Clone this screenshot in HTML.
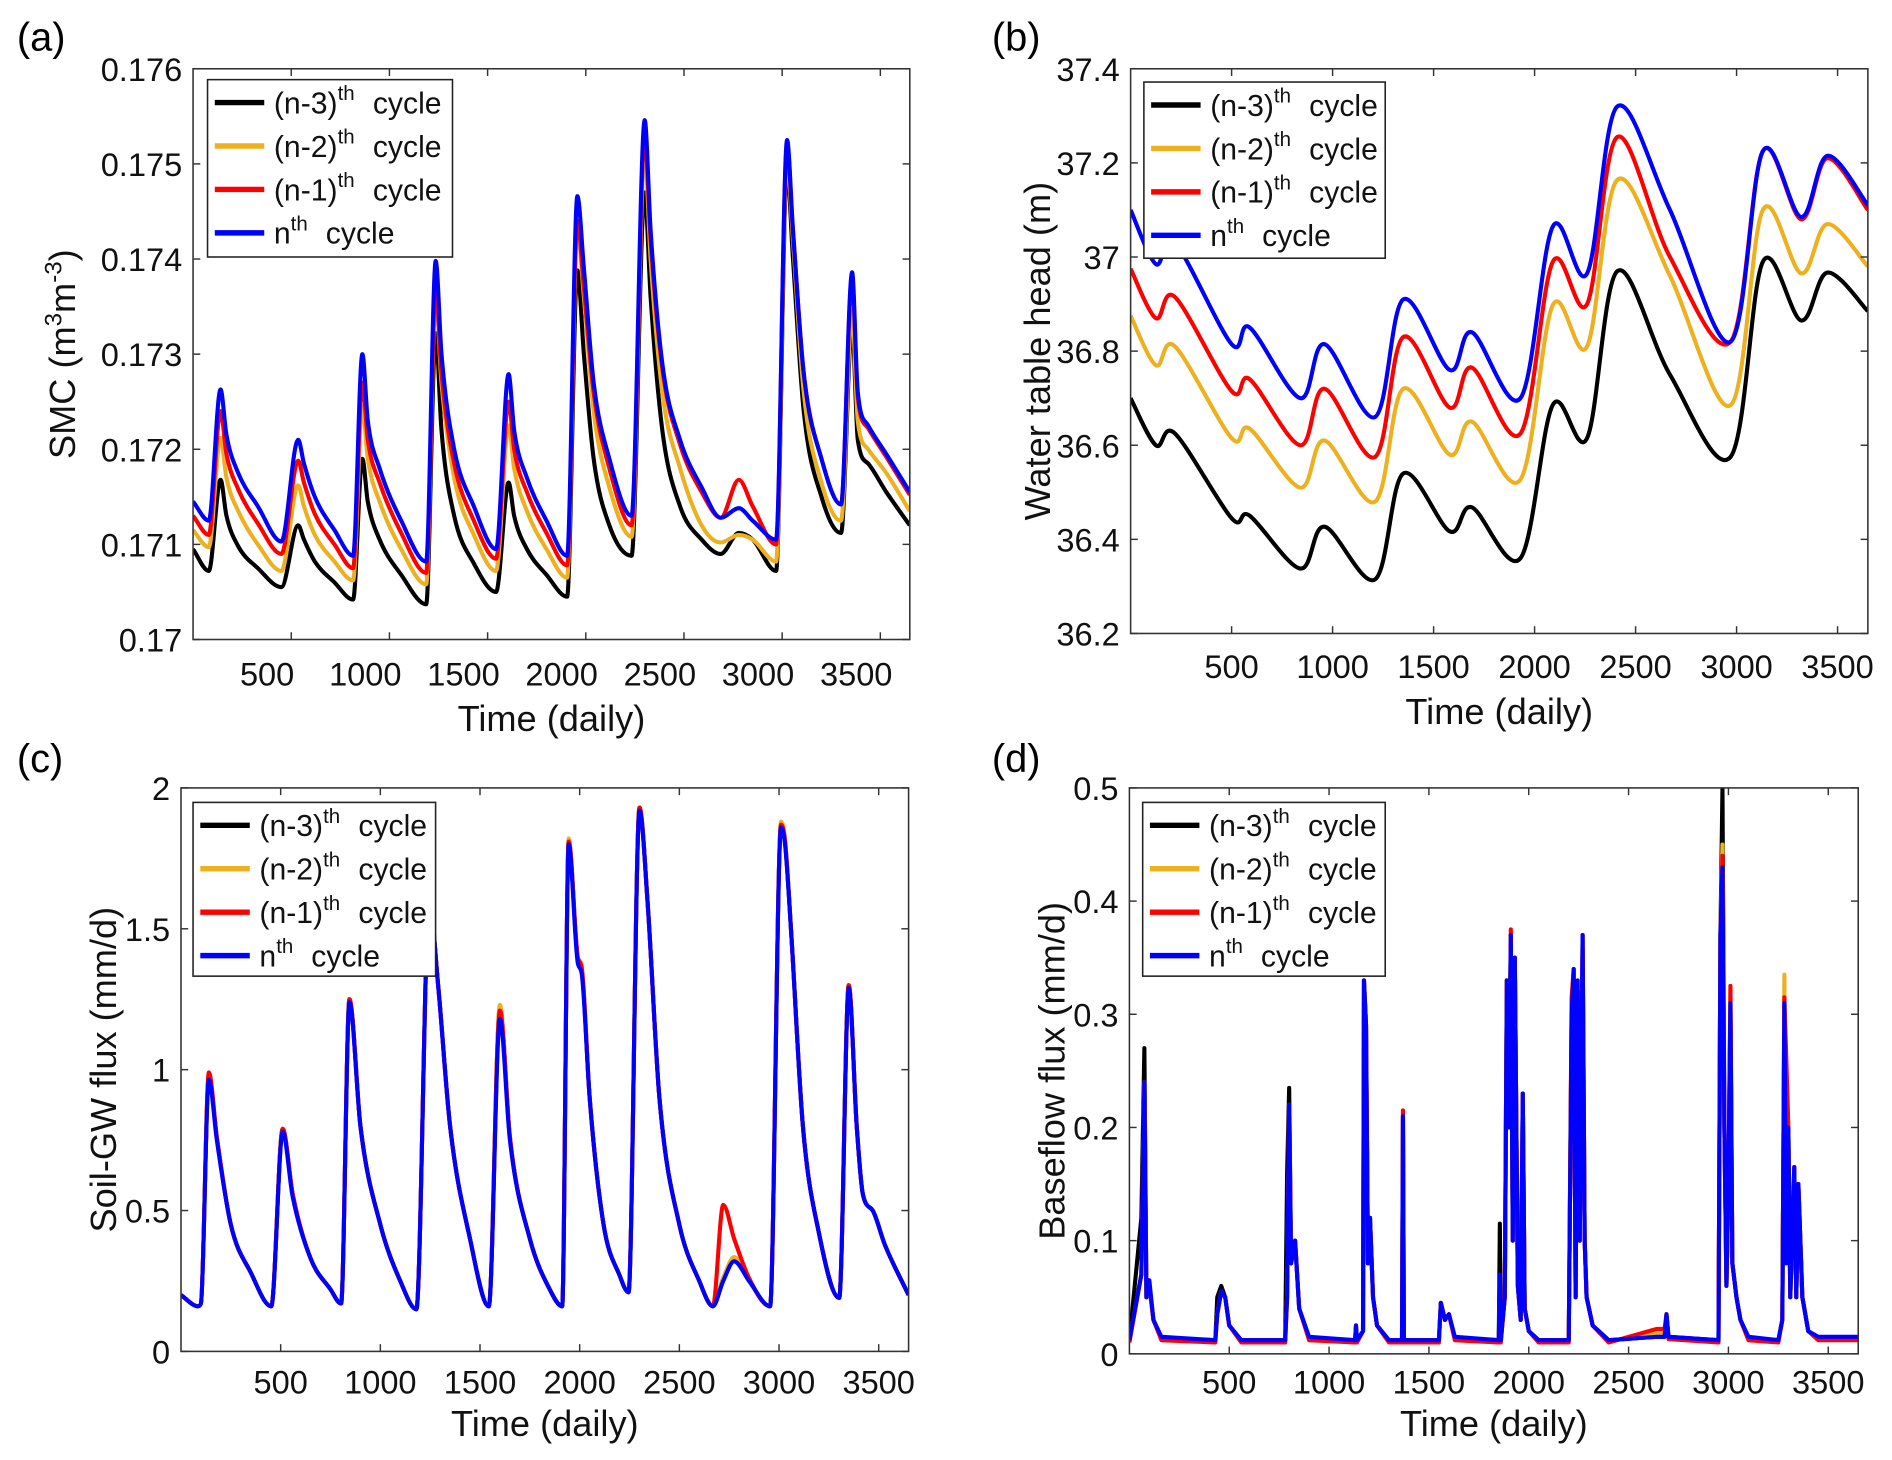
<!DOCTYPE html>
<html><head><meta charset="utf-8"><style>
html,body{margin:0;padding:0;background:#fff;}
svg{display:block;font-family:"Liberation Sans",Arial,sans-serif;}
</style></head><body>
<svg id="fig" width="1892" height="1460" viewBox="0 0 1568 1210" preserveAspectRatio="none" xmlns="http://www.w3.org/2000/svg"></svg>
<script>
// ---------- DATA ----------
const xTicks = [500,1000,1500,2000,2500,3000,3500];
// Panel (a) SMC
const daysA = [0,80,140,170,230,330,450,535,565,620,720,815,862,890,950,1060,1187,1236,1265,1330,1430,1543,1607,1635,1700,1800,1905,1957,1990,2040,2120,2233,2300,2330,2390,2480,2590,2687,2779,2850,2969,3025,3055,3110,3200,3300,3356,3385,3438,3530,3650];
const blackA = [0.17095,0.17072,0.17168,0.17130,0.17098,0.17075,0.17055,0.17120,0.17105,0.17082,0.17060,0.17042,0.17190,0.17145,0.17105,0.17068,0.17037,0.17322,0.17220,0.17130,0.17080,0.17050,0.17165,0.17130,0.17095,0.17068,0.17045,0.17388,0.17300,0.17190,0.17120,0.17088,0.17470,0.17360,0.17220,0.17140,0.17105,0.17090,0.17112,0.17105,0.17072,0.17495,0.17400,0.17240,0.17150,0.17112,0.17330,0.17210,0.17185,0.17155,0.17120];
const orangeA = [0.17115,0.17097,0.17212,0.17170,0.17135,0.17100,0.17072,0.17162,0.17140,0.17110,0.17082,0.17062,0.17245,0.17190,0.17145,0.17095,0.17058,0.17360,0.17270,0.17170,0.17110,0.17072,0.17225,0.17180,0.17135,0.17095,0.17065,0.17430,0.17360,0.17240,0.17160,0.17108,0.17510,0.17400,0.17260,0.17180,0.17120,0.17102,0.17110,0.17105,0.17082,0.17505,0.17420,0.17260,0.17165,0.17125,0.17345,0.17230,0.17200,0.17175,0.17135];
const redA = [0.17130,0.17110,0.17240,0.17195,0.17158,0.17122,0.17090,0.17188,0.17165,0.17132,0.17100,0.17075,0.17270,0.17210,0.17165,0.17112,0.17070,0.17370,0.17280,0.17185,0.17125,0.17085,0.17250,0.17200,0.17155,0.17112,0.17078,0.17440,0.17370,0.17260,0.17180,0.17120,0.17530,0.17420,0.17285,0.17205,0.17155,0.17128,0.17168,0.17140,0.17100,0.17520,0.17430,0.17280,0.17190,0.17142,0.17380,0.17255,0.17222,0.17192,0.17152];
const blueA = [0.17145,0.17125,0.17263,0.17215,0.17175,0.17140,0.17103,0.17210,0.17185,0.17150,0.17115,0.17088,0.17300,0.17230,0.17180,0.17125,0.17082,0.17398,0.17300,0.17200,0.17140,0.17095,0.17279,0.17220,0.17170,0.17125,0.17088,0.17466,0.17390,0.17270,0.17190,0.17130,0.17546,0.17430,0.17290,0.17210,0.17160,0.17128,0.17138,0.17125,0.17105,0.17525,0.17430,0.17280,0.17190,0.17142,0.17386,0.17260,0.17225,0.17195,0.17155];
const yTicksA = [0.170,0.171,0.172,0.173,0.174,0.175,0.176];
const yLabelsA = ['0.17','0.171','0.172','0.173','0.174','0.175','0.176'];
// Panel (b) water table head
const daysB = [0,125,220,500,590,840,960,1210,1350,1580,1690,1930,2090,2260,2410,2670,2970,3130,3320,3450,3650];
const blackB = [36.70,36.60,36.625,36.445,36.45,36.338,36.427,36.315,36.54,36.417,36.468,36.36,36.686,36.615,36.97,36.75,36.575,36.99,36.865,36.967,36.885];
const orangeB = [36.875,36.77,36.81,36.615,36.635,36.51,36.61,36.48,36.72,36.58,36.65,36.527,36.898,36.81,37.164,36.96,36.685,37.10,36.965,37.07,36.98];
const redB = [36.975,36.87,36.915,36.715,36.74,36.60,36.72,36.575,36.83,36.68,36.765,36.625,36.99,36.90,37.255,37.00,36.82,37.225,37.08,37.21,37.10];
const blueB = [37.10,36.985,37.03,36.815,36.85,36.70,36.815,36.66,36.91,36.76,36.84,36.70,37.065,36.965,37.32,37.10,36.82,37.225,37.085,37.215,37.11];
const yTicksB = [36.2,36.4,36.6,36.8,37.0,37.2,37.4];
const yLabelsB = ['36.2','36.4','36.6','36.8','37','37.2','37.4'];
// Panel (c) soil-GW flux
const daysC = [0,85,100,140,180,250,350,453,510,560,650,750,803,845,900,1000,1100,1181,1245,1290,1350,1450,1544,1600,1650,1750,1850,1912,1945,1990,2010,2050,2120,2200,2245,2300,2340,2400,2500,2600,2668,2720,2775,2850,2955,3010,3030,3060,3120,3200,3302,3350,3390,3420,3470,3530,3650];
const blackC = [0.20,0.16,0.17,0.98,0.76,0.45,0.28,0.16,0.79,0.56,0.33,0.22,0.17,1.25,0.80,0.45,0.25,0.15,1.60,1.30,0.80,0.40,0.16,1.22,0.76,0.40,0.22,0.16,1.81,1.40,1.36,0.90,0.45,0.27,0.21,1.93,1.60,0.90,0.45,0.25,0.16,0.26,0.33,0.25,0.16,1.87,1.81,1.50,0.80,0.42,0.19,1.30,0.80,0.56,0.50,0.38,0.20];
const orangeC = [0.20,0.16,0.17,0.98,0.76,0.45,0.28,0.16,0.79,0.56,0.33,0.22,0.17,1.25,0.80,0.45,0.25,0.15,1.60,1.30,0.80,0.40,0.16,1.23,0.76,0.40,0.22,0.16,1.82,1.40,1.37,0.90,0.45,0.27,0.21,1.93,1.60,0.90,0.45,0.25,0.16,0.26,0.335,0.25,0.16,1.88,1.82,1.50,0.80,0.42,0.19,1.30,0.80,0.56,0.50,0.38,0.20];
const redC = [0.20,0.16,0.17,0.99,0.76,0.45,0.28,0.16,0.79,0.56,0.33,0.22,0.17,1.25,0.80,0.45,0.25,0.15,1.60,1.30,0.80,0.40,0.16,1.21,0.76,0.40,0.22,0.16,1.81,1.40,1.36,0.90,0.45,0.27,0.21,1.93,1.60,0.90,0.45,0.25,0.16,0.52,0.40,0.26,0.16,1.87,1.81,1.50,0.80,0.42,0.19,1.30,0.80,0.56,0.50,0.38,0.20];
const blueC = [0.20,0.16,0.17,0.965,0.75,0.45,0.28,0.16,0.78,0.55,0.33,0.22,0.17,1.24,0.80,0.45,0.25,0.15,1.60,1.30,0.80,0.40,0.16,1.18,0.75,0.40,0.22,0.16,1.80,1.38,1.34,0.90,0.45,0.27,0.21,1.92,1.60,0.90,0.45,0.25,0.16,0.25,0.32,0.25,0.16,1.86,1.80,1.50,0.80,0.42,0.19,1.29,0.80,0.56,0.50,0.38,0.20];
const yTicksC = [0,0.5,1,1.5,2];
const yLabelsC = ['0','0.5','1','1.5','2'];
// Panel (d) baseflow flux
const daysD = [0,60,75,85,100,120,160,430,440,460,480,500,560,780,790,800,810,830,850,900,1130,1135,1140,1170,1175,1185,1195,1205,1220,1240,1300,1365,1370,1375,1550,1560,1580,1600,1630,1850,1855,1860,1880,1890,1900,1910,1920,1930,1945,1960,1970,1980,2000,2050,2200,2215,2225,2235,2245,2255,2270,2280,2290,2320,2400,2640,2680,2690,2700,2950,2960,2970,2980,2990,3000,3010,3020,3040,3060,3100,3250,3270,3280,3290,3300,3310,3330,3340,3350,3370,3400,3450,3650];
const blackD = [0.012,0.12,0.27,0.05,0.06,0.03,0.014,0.012,0.05,0.06,0.05,0.025,0.012,0.012,0.16,0.235,0.08,0.1,0.04,0.014,0.012,0.025,0.012,0.02,0.33,0.29,0.08,0.12,0.05,0.025,0.012,0.012,0.21,0.012,0.012,0.045,0.03,0.035,0.014,0.012,0.115,0.012,0.05,0.33,0.2,0.37,0.1,0.35,0.06,0.03,0.23,0.04,0.02,0.012,0.012,0.3,0.33,0.05,0.32,0.1,0.36,0.1,0.05,0.025,0.012,0.015,0.015,0.035,0.015,0.012,0.37,0.5,0.2,0.06,0.15,0.3,0.08,0.05,0.03,0.014,0.012,0.03,0.31,0.11,0.2,0.05,0.16,0.05,0.15,0.05,0.02,0.014,0.014];
const orangeD = [0.011,0.07,0.24,0.05,0.06,0.03,0.013,0.011,0.035,0.055,0.05,0.025,0.011,0.011,0.05,0.22,0.08,0.1,0.04,0.013,0.011,0.025,0.011,0.02,0.33,0.29,0.08,0.12,0.05,0.025,0.011,0.011,0.21,0.011,0.011,0.045,0.03,0.035,0.013,0.011,0.06,0.011,0.05,0.33,0.2,0.37,0.1,0.35,0.06,0.03,0.23,0.04,0.02,0.011,0.011,0.31,0.34,0.05,0.32,0.1,0.37,0.1,0.05,0.025,0.011,0.018,0.018,0.035,0.014,0.011,0.37,0.45,0.2,0.06,0.15,0.31,0.08,0.05,0.03,0.013,0.011,0.03,0.335,0.08,0.2,0.05,0.165,0.05,0.15,0.05,0.02,0.013,0.013];
const redD = [0.010,0.07,0.24,0.05,0.06,0.03,0.012,0.010,0.035,0.055,0.05,0.025,0.010,0.010,0.05,0.22,0.08,0.1,0.04,0.012,0.010,0.025,0.010,0.02,0.33,0.29,0.08,0.12,0.05,0.025,0.010,0.010,0.215,0.010,0.010,0.045,0.03,0.035,0.012,0.010,0.06,0.010,0.05,0.33,0.2,0.375,0.1,0.35,0.06,0.03,0.23,0.04,0.02,0.010,0.010,0.315,0.34,0.05,0.32,0.1,0.37,0.1,0.05,0.025,0.010,0.022,0.022,0.035,0.013,0.010,0.37,0.44,0.2,0.06,0.15,0.325,0.08,0.05,0.03,0.012,0.010,0.03,0.315,0.26,0.2,0.05,0.165,0.05,0.15,0.05,0.02,0.012,0.012];
const blueD = [0.012,0.07,0.24,0.05,0.065,0.03,0.015,0.012,0.035,0.055,0.05,0.025,0.012,0.012,0.05,0.22,0.08,0.1,0.04,0.015,0.012,0.025,0.012,0.02,0.33,0.29,0.08,0.12,0.05,0.025,0.012,0.012,0.21,0.012,0.012,0.045,0.03,0.035,0.015,0.012,0.07,0.012,0.05,0.33,0.2,0.37,0.1,0.35,0.06,0.03,0.23,0.04,0.02,0.012,0.012,0.3,0.34,0.05,0.33,0.1,0.37,0.1,0.05,0.025,0.012,0.015,0.015,0.035,0.015,0.012,0.37,0.43,0.2,0.06,0.15,0.31,0.08,0.05,0.03,0.015,0.012,0.03,0.31,0.08,0.2,0.05,0.165,0.05,0.15,0.05,0.02,0.015,0.015];
const yTicksD = [0,0.1,0.2,0.3,0.4,0.5];
const yLabelsD = ['0','0.1','0.2','0.3','0.4','0.5'];

// ---------- DRAWING ----------
const NS = 'http://www.w3.org/2000/svg';
const svg = document.getElementById('fig');
const COLORS = ['#000000','#EDB120','#FF0000','#0000FF'];
const NAMES = ['n-3','n-2','n-1','n'];
function mk(tag, attrs, parent){ const e=document.createElementNS(NS,tag); for(const k in attrs) e.setAttribute(k,attrs[k]); (parent||svg).appendChild(e); return e; }

// monotone cubic (Fritsch-Carlson) path through points
function monotonePath(pts){
  const n=pts.length; const dx=[],m=[],t=new Array(n);
  for(let i=0;i<n-1;i++){dx[i]=pts[i+1][0]-pts[i][0]; m[i]=(pts[i+1][1]-pts[i][1])/dx[i];}
  t[0]=m[0]; t[n-1]=m[n-2];
  for(let i=1;i<n-1;i++){ t[i]=(m[i-1]*m[i]<=0)?0:(m[i-1]+m[i])/2; }
  for(let i=0;i<n-1;i++){
    if(m[i]===0){t[i]=0;t[i+1]=0;continue;}
    const a=t[i]/m[i], b=t[i+1]/m[i], s=a*a+b*b;
    if(s>9){const k=3/Math.sqrt(s); t[i]=k*a*m[i]; t[i+1]=k*b*m[i];}
  }
  let d='M'+pts[0][0].toFixed(1)+','+pts[0][1].toFixed(1);
  for(let i=0;i<n-1;i++){
    const h=dx[i]/3;
    d+=' C'+(pts[i][0]+h).toFixed(1)+','+(pts[i][1]+t[i]*h).toFixed(1)+' '+(pts[i+1][0]-h).toFixed(1)+','+(pts[i+1][1]-t[i+1]*h).toFixed(1)+' '+pts[i+1][0].toFixed(1)+','+pts[i+1][1].toFixed(1);
  }
  return d;
}

const panels = [
 {id:'a', L:160,R:754,T:57,B:530, y0:0.170,y1:0.176, yt:yTicksA, yl:yLabelsA, days:daysA, series:[blackA,orangeA,redA,blueA], xlOff:-20,
  letter:[14,42], ylabelX:62, ylabel:'smc', xlabelY:606, tickLblY:568, leg:[172,66,203,147], mode:'mono'},
 {id:'b', L:937,R:1548,T:57,B:525, y0:36.2,y1:37.4, yt:yTicksB, yl:yLabelsB, days:daysB, series:[blackB,orangeB,redB,blueB], xlOff:0,
  letter:[822,42], ylabelX:870, ylabel:'Water table head (m)', xlabelY:600, tickLblY:562, leg:[948,68,200,146], mode:'cr'},
 {id:'c', L:150,R:753,T:653,B:1120, y0:0,y1:2, yt:yTicksC, yl:yLabelsC, days:daysC, series:[blackC,orangeC,redC,blueC], xlOff:0,
  letter:[14,640], ylabelX:96, ylabel:'Soil-GW flux (mm/d)', xlabelY:1190, tickLblY:1155, leg:[160,665,201,144], mode:'mono'},
 {id:'d', L:936,R:1540,T:653,B:1122, y0:0,y1:0.5, yt:yTicksD, yl:yLabelsD, days:daysD, series:[blackD,orangeD,redD,blueD], xlOff:0,
  letter:[822,640], ylabelX:882, ylabel:'Baseflow flux (mm/d)', xlabelY:1190, tickLblY:1155, leg:[947,665,201,144], mode:'line'}
];

panels.forEach(p=>{
  const g = mk('g',{});
  
  
  const xs = d => p.L + (d/3650)*(p.R-p.L);
  const ys = v => p.B - (v-p.y0)/(p.y1-p.y0)*(p.B-p.T);
  const lt = mk('text',{x:p.letter[0],y:p.letter[1],'font-size':33,fill:'#000'},g);
  lt.textContent='('+p.id+')';
  
  
  const cp = mk('clipPath',{id:'clip'+p.id},g);
  mk('rect',{x:p.L,y:p.T,width:p.R-p.L,height:p.B-p.T},cp);
  const sg = mk('g',{'clip-path':'url(#clip'+p.id+')'},g);
  p.series.forEach((vals,si)=>{
    const pts = p.days.map((d,i)=>[xs(d),ys(vals[i])]);
    let dstr;
    if(p.mode==='cr'){
      dstr='M'+pts[0][0]+','+pts[0][1];
      for(let i=0;i<pts.length-1;i++){
        const p0=pts[Math.max(0,i-1)],p1=pts[i],p2=pts[i+1],p3=pts[Math.min(pts.length-1,i+2)];
        const c1=[p1[0]+(p2[0]-p0[0])/6,p1[1]+(p2[1]-p0[1])/6];
        const c2=[p2[0]-(p3[0]-p1[0])/6,p2[1]-(p3[1]-p1[1])/6];
        dstr+=' C'+c1[0].toFixed(1)+','+c1[1].toFixed(1)+' '+c2[0].toFixed(1)+','+c2[1].toFixed(1)+' '+p2[0].toFixed(1)+','+p2[1].toFixed(1);
      }
    } else if(p.mode==='mono'){
      dstr=monotonePath(pts);
    } else {
      dstr='M'+pts.map(q=>q[0].toFixed(1)+','+q[1].toFixed(1)).join(' L');
    }
    const path = mk('path',{d:dstr,fill:'none',stroke:COLORS[si],'stroke-width':3.4,'stroke-linejoin':'round'},sg);
    
    
  });
  const box = mk('rect',{x:p.L,y:p.T,width:p.R-p.L,height:p.B-p.T,fill:'none',stroke:'#333','stroke-width':1.3},g);
  
  
  xTicks.forEach(t=>{
    const x=xs(t);
    mk('line',{x1:x,x2:x,y1:p.B,y2:p.B-6,stroke:'#333','stroke-width':1.2},g);
    mk('line',{x1:x,x2:x,y1:p.T,y2:p.T+6,stroke:'#333','stroke-width':1.2},g);
    const tx = mk('text',{x:x+p.xlOff,y:p.tickLblY,'font-size':27,'text-anchor':'middle',fill:'#111'},g);
    tx.textContent=String(t);
    
    
  });
  p.yt.forEach((t,i)=>{
    const y=ys(t);
    mk('line',{x1:p.L,x2:p.L+6,y1:y,y2:y,stroke:'#333','stroke-width':1.2},g);
    mk('line',{x1:p.R,x2:p.R-6,y1:y,y2:y,stroke:'#333','stroke-width':1.2},g);
    const ty = mk('text',{x:p.L-9,y:y+10,'font-size':27,'text-anchor':'end',fill:'#111'},g);
    ty.textContent=p.yl[i];
    
    
  });
  const xl = mk('text',{x:(p.L+p.R)/2,y:p.xlabelY,'font-size':30,'text-anchor':'middle',fill:'#111'},g);
  xl.textContent='Time (daily)';
  
  
  const cy=(p.T+p.B)/2;
  const yl = mk('text',{x:0,y:0,'font-size':30,'text-anchor':'middle',fill:'#111',transform:'translate('+p.ylabelX+','+cy+') rotate(-90)'},g);
  
  
  if(p.ylabel==='smc'){
    yl.innerHTML='SMC  (m<tspan dy="-11" font-size="20">3</tspan><tspan dy="11">m</tspan><tspan dy="-11" font-size="20">-3</tspan><tspan dy="11">)</tspan>';
  } else yl.textContent=p.ylabel;
  const [lx,ly,lw,lh]=p.leg;
  const lg = mk('g',{},g);
  
  
  mk('rect',{x:lx,y:ly,width:lw,height:lh,fill:'#fff',stroke:'#222','stroke-width':1.3},lg);
  const labels=['(n-3)','(n-2)','(n-1)','n'];
  for(let i=0;i<4;i++){
    const ey = ly+19+i*36;
    const e = mk('g',{},lg);
    
    
    mk('line',{x1:lx+6,x2:lx+47,y1:ey,y2:ey,stroke:COLORS[i],'stroke-width':4.5},e);
    const t = mk('text',{x:lx+55,y:ey+9,'font-size':25,fill:'#111'},e);
    t.innerHTML=labels[i]+'<tspan dy="-11" font-size="17">th</tspan>';
    const t2 = mk('text',{x:lx+(i===3?98:137),y:ey+9,'font-size':25,fill:'#111'},e);
    t2.textContent='cycle';
  }
});
</script>
</body></html>
